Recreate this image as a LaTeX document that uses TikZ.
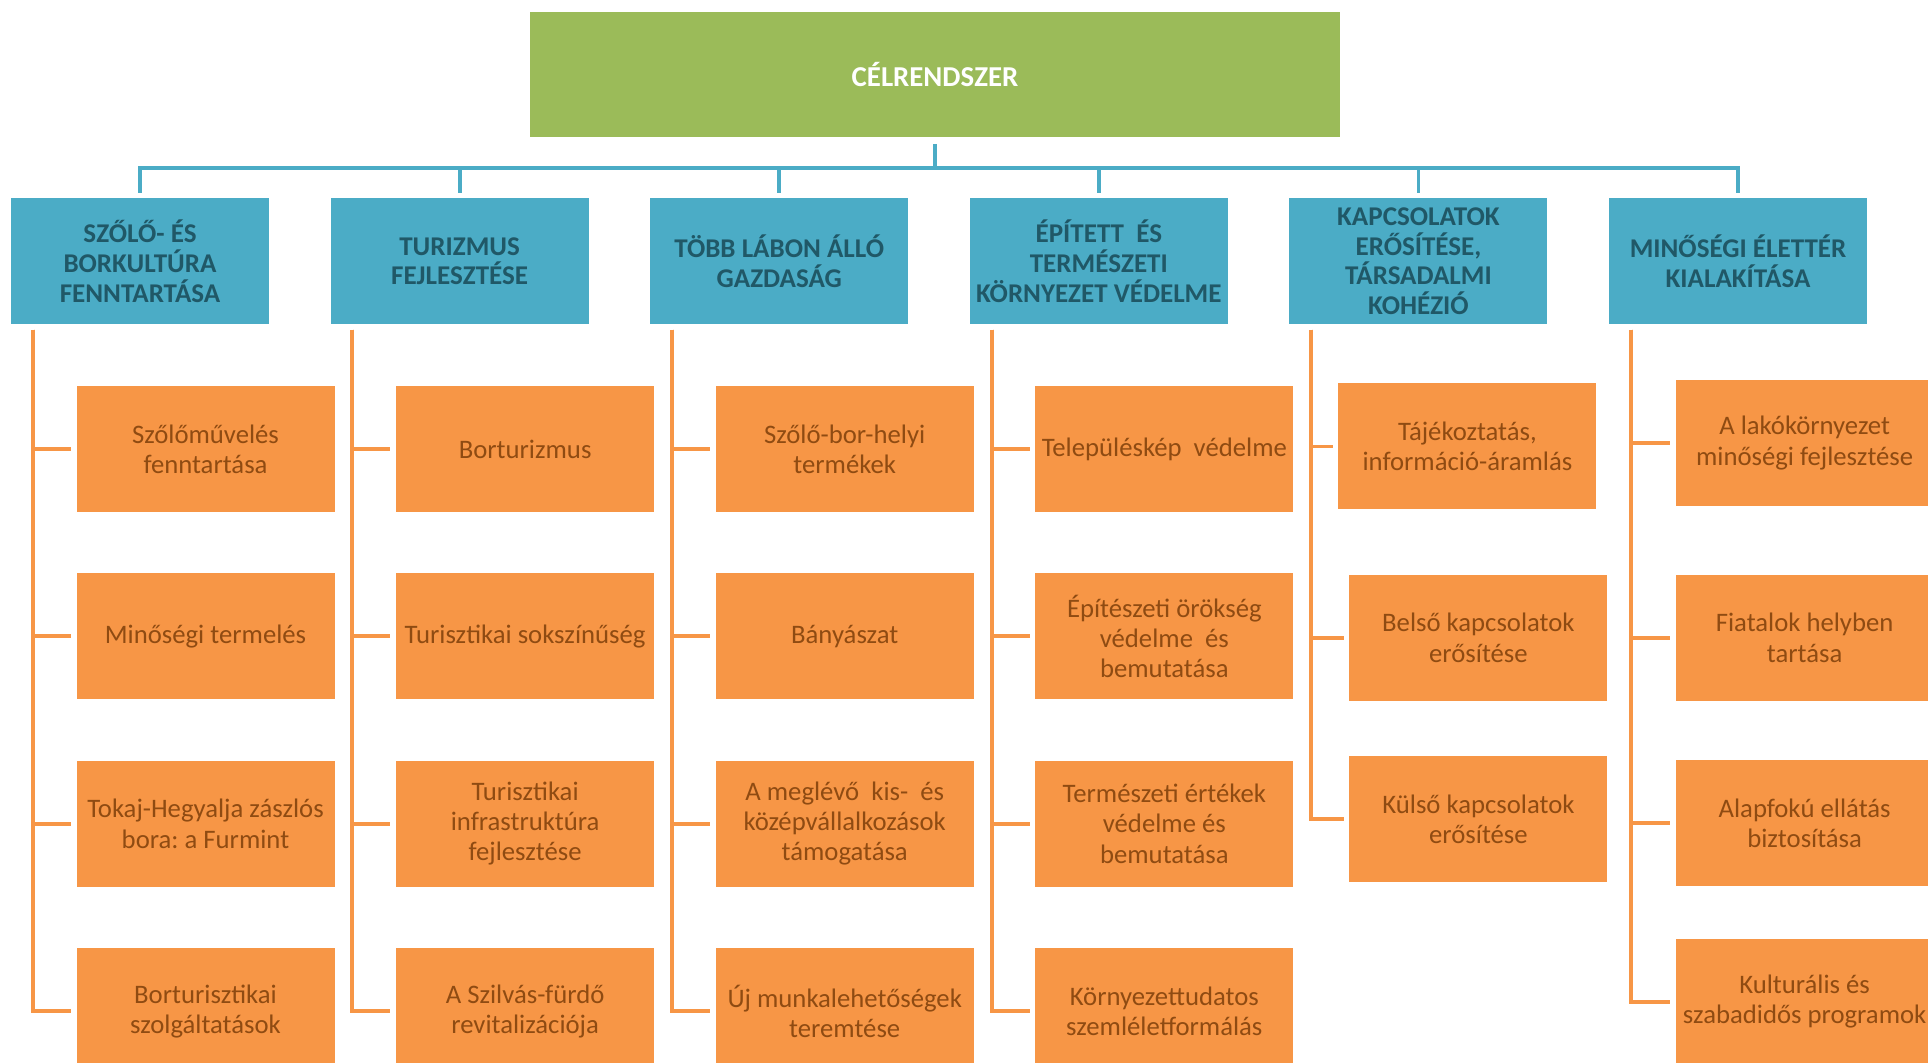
\documentclass[tikz,border=0pt]{standalone}
\usepackage{fontspec}
\setmainfont{Carlito}
\frenchspacing
\usetikzlibrary{positioning}
\definecolor{goalgreen}{HTML}{9BBB59}
\definecolor{themeblue}{HTML}{4BACC6}
\definecolor{taskorange}{HTML}{F79646}
\definecolor{themetext}{HTML}{205867}
\definecolor{tasktext}{HTML}{8F4B12}

\begin{document}
\begin{tikzpicture}[
    node distance=0.602cm,
    goal/.style={rectangle, fill=goalgreen, minimum width=8.1cm, minimum height=1.256cm, text=white, font=\bfseries\fontsize{8.2}{9}\selectfont},
    theme/.style={rectangle, fill=themeblue, minimum width=2.58cm, minimum height=1.257cm, align=center, inner sep=0pt, text=themetext, font=\bfseries\fontsize{7.7}{8.45}\selectfont},
    task/.style={rectangle, fill=taskorange, minimum width=2.58cm, minimum height=1.26cm, align=center, inner sep=0pt, text=tasktext, font=\fontsize{7.6}{8.6}\selectfont},
    bus/.style={draw=themeblue, line width=1.1pt},
    stem/.style={draw=taskorange, line width=1.1pt}
]
\useasboundingbox (0,0) rectangle (19.28,-10.63);

% Goal
\node[goal] (goal) at (9.35,-0.745) {CÉLRENDSZER};

% Themes
\node[theme] (t1) at (1.40,-2.612) {SZŐLŐ- ÉS\\BORKULTÚRA\\FENNTARTÁSA};
\node[theme, right=of t1] (t2) {TURIZMUS\\FEJLESZTÉSE};
\node[theme, right=of t2] (t3) {TÖBB LÁBON ÁLLÓ\\GAZDASÁG};
\node[theme, right=of t3] (t4) {ÉPÍTETT~ ÉS\\TERMÉSZETI\\KÖRNYEZET VÉDELME};
\node[theme, right=of t4] (t5) {KAPCSOLATOK\\ERŐSÍTÉSE,\\TÁRSADALMI\\KOHÉZIÓ};
\node[theme, right=of t5] (t6) {MINŐSÉGI ÉLETTÉR\\KIALAKÍTÁSA};

% Tasks
\node[task, below=0.605cm of t1, xshift=0.655cm] (a1) {Szőlőművelés\\fenntartása};
\node[task, below=0.6cm of a1] (a2) {Minőségi termelés};
\node[task, below=0.6cm of a2] (a3) {Tokaj-Hegyalja zászlós\\bora: a Furmint};
\node[task, below=0.6cm of a3] (a4) {Borturisztikai\\szolgáltatások};

\node[task, below=0.605cm of t2, xshift=0.655cm] (b1) {Borturizmus};
\node[task, below=0.6cm of b1] (b2) {Turisztikai sokszínűség};
\node[task, below=0.6cm of b2] (b3) {Turisztikai\\infrastruktúra\\fejlesztése};
\node[task, below=0.6cm of b3] (b4) {A Szilvás-fürdő\\revitalizációja};

\node[task, below=0.605cm of t3, xshift=0.655cm] (c1) {Szőlő-bor-helyi\\termékek};
\node[task, below=0.6cm of c1] (c2) {Bányászat};
\node[task, below=0.6cm of c2] (c3) {A meglévő~ kis-~ és\\középvállalkozások\\támogatása};
\node[task, below=0.6cm of c3] (c4) {Új munkalehetőségek\\teremtése};

\node[task, below=0.605cm of t4, xshift=0.655cm] (d1) {Településkép~ védelme};
\node[task, below=0.6cm of d1] (d2) {Építészeti örökség\\védelme~ és\\bemutatása};
\node[task, below=0.6cm of d2] (d3) {Természeti értékek\\védelme és\\bemutatása};
\node[task, below=0.6cm of d3] (d4) {Környezettudatos\\szemléletformálás};

\node[task, below=0.58cm of t5, xshift=0.49cm] (e1) {Tájékoztatás,\\információ-áramlás};
\node[task, below=0.64cm of e1, xshift=0.11cm] (e2) {Belső kapcsolatok\\erősítése};
\node[task, below=0.54cm of e2] (e3) {Külső kapcsolatok\\erősítése};

\node[task, below=0.545cm of t6, xshift=0.666cm] (f1) {A lakókörnyezet\\minőségi fejlesztése};
\node[task, below=0.675cm of f1] (f2) {Fiatalok helyben\\tartása};
\node[task, below=0.58cm of f2] (f3) {Alapfokú ellátás\\biztosítása};
\node[task, below=0.51cm of f3] (f4) {Kulturális és\\szabadidős programok};

% Goal to themes
\draw[bus] ([yshift=-0.06cm]goal.south) -- ([yshift=-0.304cm]goal.south) coordinate (hub);
\draw[bus] ([yshift=0.05cm]t1.north) |- (hub);
\draw[bus] ([yshift=0.05cm]t2.north) |- (hub);
\draw[bus] ([yshift=0.05cm]t3.north) |- (hub);
\draw[bus] ([yshift=0.05cm]t4.north) |- (hub);
\draw[bus] ([yshift=0.05cm]t5.north) |- (hub);
\draw[bus] ([yshift=0.05cm]t6.north) |- (hub);

% Themes to tasks
\draw[stem] ([xshift=0.225cm,yshift=-0.05cm]t1.south west) |- ([xshift=-0.05cm]a4.west);
\draw[stem] ([xshift=0.225cm,yshift=-0.05cm]t1.south west) |- ([xshift=-0.05cm]a3.west);
\draw[stem] ([xshift=0.225cm,yshift=-0.05cm]t1.south west) |- ([xshift=-0.05cm]a2.west);
\draw[stem] ([xshift=0.225cm,yshift=-0.05cm]t1.south west) |- ([xshift=-0.05cm]a1.west);

\draw[stem] ([xshift=0.225cm,yshift=-0.05cm]t2.south west) |- ([xshift=-0.05cm]b4.west);
\draw[stem] ([xshift=0.225cm,yshift=-0.05cm]t2.south west) |- ([xshift=-0.05cm]b3.west);
\draw[stem] ([xshift=0.225cm,yshift=-0.05cm]t2.south west) |- ([xshift=-0.05cm]b2.west);
\draw[stem] ([xshift=0.225cm,yshift=-0.05cm]t2.south west) |- ([xshift=-0.05cm]b1.west);

\draw[stem] ([xshift=0.225cm,yshift=-0.05cm]t3.south west) |- ([xshift=-0.05cm]c4.west);
\draw[stem] ([xshift=0.225cm,yshift=-0.05cm]t3.south west) |- ([xshift=-0.05cm]c3.west);
\draw[stem] ([xshift=0.225cm,yshift=-0.05cm]t3.south west) |- ([xshift=-0.05cm]c2.west);
\draw[stem] ([xshift=0.225cm,yshift=-0.05cm]t3.south west) |- ([xshift=-0.05cm]c1.west);

\draw[stem] ([xshift=0.225cm,yshift=-0.05cm]t4.south west) |- ([xshift=-0.05cm]d4.west);
\draw[stem] ([xshift=0.225cm,yshift=-0.05cm]t4.south west) |- ([xshift=-0.05cm]d3.west);
\draw[stem] ([xshift=0.225cm,yshift=-0.05cm]t4.south west) |- ([xshift=-0.05cm]d2.west);
\draw[stem] ([xshift=0.225cm,yshift=-0.05cm]t4.south west) |- ([xshift=-0.05cm]d1.west);

\draw[stem] ([xshift=0.225cm,yshift=-0.05cm]t5.south west) |- ([xshift=-0.05cm]e3.west);
\draw[stem] ([xshift=0.225cm,yshift=-0.05cm]t5.south west) |- ([xshift=-0.05cm]e2.west);
\draw[stem] ([xshift=0.225cm,yshift=-0.05cm]t5.south west) |- ([xshift=-0.05cm]e1.west);

\draw[stem] ([xshift=0.225cm,yshift=-0.05cm]t6.south west) |- ([xshift=-0.05cm]f4.west);
\draw[stem] ([xshift=0.225cm,yshift=-0.05cm]t6.south west) |- ([xshift=-0.05cm]f3.west);
\draw[stem] ([xshift=0.225cm,yshift=-0.05cm]t6.south west) |- ([xshift=-0.05cm]f2.west);
\draw[stem] ([xshift=0.225cm,yshift=-0.05cm]t6.south west) |- ([xshift=-0.05cm]f1.west);

\end{tikzpicture}
\end{document}
